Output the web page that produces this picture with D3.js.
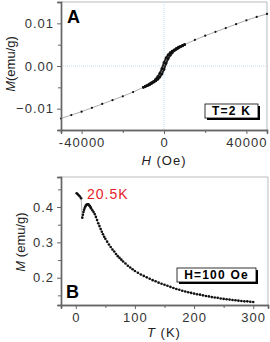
<!DOCTYPE html>
<html>
<head>
<meta charset="utf-8">
<script src="https://cdn.jsdelivr.net/npm/d3@7"></script>
<style>
body { margin: 0; background: #fff; }
svg text { font-family: Arial, "Liberation Sans", sans-serif; }
</style>
</head>
<body>
<svg id="chart" width="270" height="342"></svg>
<script>
// Panel A: M vs H at T=2 K
var hOuter = [-50000, -45000, -40000, -35000, -30000, -25000, -20000, -15000,
  15000, 20000, 25000, 30000, 35000, 40000, 45000, 50000];
var mOuter = [-0.0123, -0.0115, -0.0107, -0.0098, -0.0089, -0.0080, -0.0071, -0.0061,
  0.0061, 0.0071, 0.0080, 0.0089, 0.0098, 0.0107, 0.0115, 0.0122];
var hInner = [-10000, -9000, -8000, -7000, -6000, -5000, -4000, -3000, -2000, -1000, 0,
  1000, 2000, 3000, 4000, 5000, 6000, 7000, 8000, 9000, 10000];
var mUp = [-0.0050, -0.0048, -0.0046, -0.0044, -0.0041, -0.0038, -0.0035, -0.0031, -0.0026, -0.0019, -0.0008,
  0.0006, 0.0017, 0.0025, 0.0031, 0.0036, 0.0039, 0.0042, 0.0045, 0.0047, 0.0050];
var mDown = [-0.0050, -0.0047, -0.0045, -0.0042, -0.0039, -0.0036, -0.0031, -0.0025, -0.0017, -0.0006, 0.0008,
  0.0019, 0.0026, 0.0031, 0.0035, 0.0038, 0.0041, 0.0044, 0.0046, 0.0048, 0.0050];
var hTicks = [-40000, 0, 40000];
var hMinor = [-20000, 20000];
var mTicksA = [-0.01, 0, 0.01];
var mMinorA = [-0.005, 0.005];

// Panel B: M vs T at H=100 Oe
var tempK = [1.5, 3, 5, 7, 9, 11, 12, 13, 14, 15, 16, 17, 18, 19, 20, 21, 22, 23, 24, 25, 26, 28, 30,
  32, 34, 36, 38, 40, 42, 44, 46, 48, 50, 53, 56, 59, 62, 65, 68, 71, 74, 77, 80, 84, 88, 92, 96,
  100, 105, 110, 115, 120, 125, 130, 135, 140, 145, 150, 155, 160, 165, 170, 175, 180, 185, 190,
  195, 200, 205, 210, 215, 220, 225, 230, 235, 240, 245, 250, 255, 260, 265, 270, 275, 280, 285,
  290, 295, 300];
var magB = [0.439, 0.437, 0.433, 0.430, 0.425, 0.370, 0.378, 0.386, 0.392, 0.397, 0.401, 0.404, 0.406,
  0.407, 0.408, 0.408, 0.406, 0.404, 0.402, 0.399, 0.396, 0.391, 0.386,
  0.380, 0.372, 0.363, 0.354, 0.346, 0.338, 0.330, 0.323, 0.316, 0.310, 0.302, 0.294, 0.287, 0.280,
  0.274, 0.267, 0.261, 0.256, 0.251, 0.246, 0.240, 0.234, 0.229, 0.224,
  0.219, 0.214, 0.209, 0.205, 0.201, 0.197, 0.193, 0.190, 0.186, 0.183, 0.180, 0.177, 0.174, 0.171,
  0.168, 0.166, 0.163, 0.161, 0.159, 0.157, 0.155, 0.153, 0.152, 0.150, 0.148, 0.147, 0.145, 0.144,
  0.143, 0.141, 0.140, 0.139, 0.138, 0.137, 0.136, 0.135, 0.134, 0.133, 0.133, 0.132, 0.131];
var tTicks = [0, 100, 200, 300];
var tMinor = [50, 150, 250];
var mTicksB = [0.2, 0.3, 0.4];
var mMinorB = [0.15, 0.25, 0.35, 0.45];

var svg = d3.select("#chart");
var tickCol = "#333";

function frame(g, x0, x1, y0, y1) {
  g.append("line").attr("x1", x0).attr("x2", x1).attr("y1", y0).attr("y2", y0).attr("stroke", "#bbb");
  g.append("line").attr("x1", x1).attr("x2", x1).attr("y1", y0).attr("y2", y1).attr("stroke", "#bbb");
}

function axes(g, x, y, xt, xm, yt, ym, yfmt, xfmt) {
  var yr = y.range(), xr = x.range();
  var ax = g.append("g").attr("transform", "translate(0," + yr[0] + ")")
    .call(d3.axisBottom(x).tickValues(xt).tickSize(4).tickPadding(4).tickFormat(xfmt));
  g.append("g").attr("transform", "translate(0," + yr[0] + ")")
    .call(d3.axisBottom(x).tickValues(xm).tickSize(3).tickFormat(""));
  var ay = g.append("g").attr("transform", "translate(" + xr[0] + ",0)")
    .call(d3.axisLeft(y).tickValues(yt).tickSize(4).tickPadding(3).tickFormat(yfmt));
  g.append("g").attr("transform", "translate(" + xr[0] + ",0)")
    .call(d3.axisLeft(y).tickValues(ym).tickSize(3).tickFormat(""));
  g.selectAll(".domain").attr("stroke", "#666").attr("stroke-width", 1.4);
  g.selectAll(".tick line").attr("stroke", "#666");
  g.selectAll(".tick text").attr("font-size", 13).attr("fill", tickCol)
    .attr("letter-spacing", 1).style("font-family", "Arial, 'Liberation Sans', sans-serif");
}

function legendBox(g, x0, y0, w, h, label) {
  g.append("rect").attr("x", x0 + 2).attr("y", y0 + 2).attr("width", w).attr("height", h).attr("fill", "#000");
  g.append("rect").attr("x", x0).attr("y", y0).attr("width", w).attr("height", h)
    .attr("fill", "#fff").attr("stroke", "#000").attr("stroke-width", 0.8);
  g.append("text").attr("x", x0 + w / 2).attr("y", y0 + h - 3).attr("text-anchor", "middle")
    .attr("font-size", 12).attr("font-weight", "bold").attr("letter-spacing", 1.2).text(label);
}

// ---------- Panel A ----------
var gA = svg.append("g");
var xA = d3.scaleLinear().domain([-50000, 50000]).range([61, 267]);
var yA = d3.scaleLinear().domain([-0.015, 0.015]).range([130, 2]);

frame(gA, 61, 267, 2, 130);
gA.append("line").attr("x1", xA(0)).attr("x2", xA(0)).attr("y1", 2).attr("y2", 130)
  .attr("stroke", "#c8dcec").attr("stroke-dasharray", "1,1");
gA.append("line").attr("x1", 61).attr("x2", 267).attr("y1", yA(0)).attr("y2", yA(0))
  .attr("stroke", "#c8dcec").attr("stroke-dasharray", "1,1");

var ptsA = [];
hOuter.forEach(function (h, i) { if (h < 0) ptsA.push([h, mOuter[i]]); });
hInner.forEach(function (h, i) { ptsA.push([h, mUp[i]]); });
hOuter.forEach(function (h, i) { if (h > 0) ptsA.push([h, mOuter[i]]); });
var downA = hInner.map(function (h, i) { return [h, mDown[i]]; });

var lineA = d3.line().x(function (d) { return xA(d[0]); }).y(function (d) { return yA(d[1]); });
gA.append("path").attr("d", lineA(ptsA)).attr("fill", "none").attr("stroke", "#999").attr("stroke-width", 0.8);
gA.append("path").attr("d", lineA(downA)).attr("fill", "none").attr("stroke", "#222").attr("stroke-width", 2);
gA.append("path").attr("d", lineA(hInner.map(function (h, i) { return [h, mUp[i]]; })))
  .attr("fill", "none").attr("stroke", "#222").attr("stroke-width", 2);
gA.selectAll(".dotA").data(ptsA.concat(downA)).enter().append("circle")
  .attr("cx", function (d) { return xA(d[0]); }).attr("cy", function (d) { return yA(d[1]); })
  .attr("r", function (d) { return Math.abs(d[0]) <= 10000 ? 1.4 : 1.1; }).attr("fill", "#111");

axes(gA, xA, yA, hTicks, hMinor, mTicksA, mMinorA, d3.format(".2f"), function (d) { return d < 0 ? "-" + Math.abs(d) : d; });

gA.append("text").attr("x", 67).attr("y", 23).attr("font-size", 18).attr("font-weight", "bold").text("A");
legendBox(gA, 205, 104, 53, 14, "T=2 K");

gA.append("text").attr("transform", "translate(15,64) rotate(-90)").attr("text-anchor", "middle")
  .attr("font-size", 13).attr("fill", "#222")
  .html('<tspan font-style="italic">M</tspan>(emu/g)');
gA.append("text").attr("x", 164).attr("y", 165).attr("text-anchor", "middle")
  .attr("font-size", 13).attr("fill", "#222").attr("letter-spacing", 1)
  .html('<tspan font-style="italic">H</tspan> (Oe)');

// ---------- Panel B ----------
var gB = svg.append("g");
var xB = d3.scaleLinear().domain([-25, 325]).range([61, 268]);
var yB = d3.scaleLinear().domain([0.1227, 0.485]).range([305, 177]);

frame(gB, 61, 268, 177, 305);

var ptsB = tempK.map(function (t, i) { return [t, magB[i]]; });
var lineB = d3.line().x(function (d) { return xB(d[0]); }).y(function (d) { return yB(d[1]); });
gB.append("path").attr("d", lineB(ptsB)).attr("fill", "none").attr("stroke", "#999").attr("stroke-width", 0.8);
gB.selectAll(".dotB").data(ptsB).enter().append("circle")
  .attr("cx", function (d) { return xB(d[0]); }).attr("cy", function (d) { return yB(d[1]); })
  .attr("r", 1.3).attr("fill", "#111");

axes(gB, xB, yB, tTicks, tMinor, mTicksB, mMinorB, d3.format(".1f"), d3.format("d"));

gB.append("text").attr("x", 66).attr("y", 298).attr("font-size", 18).attr("font-weight", "bold").text("B");
gB.append("text").attr("x", 87).attr("y", 199).attr("font-size", 14).attr("fill", "#e8222b")
  .attr("letter-spacing", 1).text("20.5K");
legendBox(gB, 177, 268, 79, 14, "H=100 Oe");

gB.append("text").attr("transform", "translate(25,242) rotate(-90)").attr("text-anchor", "middle")
  .attr("font-size", 13).attr("fill", "#222")
  .html('<tspan font-style="italic">M</tspan> (emu/g)');
gB.append("text").attr("x", 164).attr("y", 337).attr("text-anchor", "middle")
  .attr("font-size", 13).attr("fill", "#222").attr("letter-spacing", 1)
  .html('<tspan font-style="italic">T</tspan> (K)');
</script>
</body>
</html>
